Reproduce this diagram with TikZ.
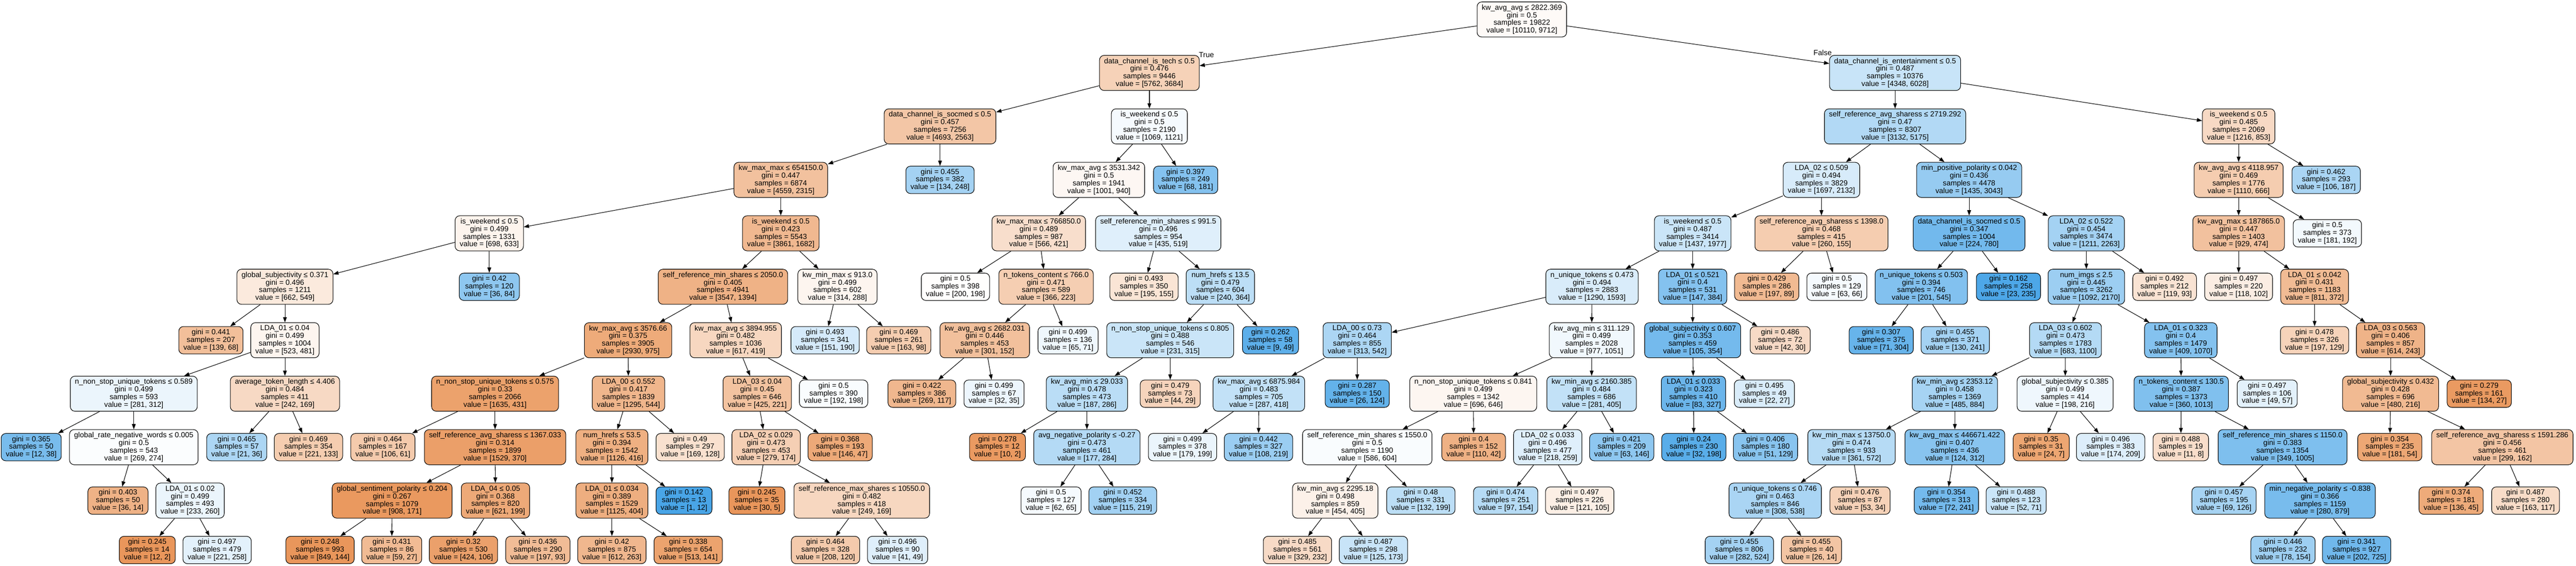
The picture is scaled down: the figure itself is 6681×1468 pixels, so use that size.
\documentclass[tikz,border=0pt]{standalone}
\usepackage{fontspec}
\setmainfont{Liberation Sans}
\usetikzlibrary{arrows.meta}
\definecolor{cO}{RGB}{229,129,57}
\definecolor{cB}{RGB}{57,157,229}
\newcommand{\tnI}[7]{\node[inode,#2] (#1) at (#3) {#4\\gini = #5\\samples = #6\\value = [#7]};}
\newcommand{\tnL}[6]{\node[lnode,#2] (#1) at (#3) {gini = #4\\samples = #5\\value = [#6]};}
\begin{document}
\begin{tikzpicture}[x=0.01cm,y=-0.01cm,
  font=\fontsize{5.46pt}{5.63pt}\selectfont,
  box/.style={draw=black, line width=0.4pt, rounded corners=0.12cm, align=center, inner xsep=0.12cm, inner ysep=0pt},
  inode/.style={box, minimum height=0.91cm},
  lnode/.style={box, minimum height=0.71cm},
  fo/.style={fill=cO!#1!white},
  fb/.style={fill=cB!#1!white},
  edge/.style={draw=black, line width=0.4pt, -{Triangle[length=3.9pt,width=2.8pt]}},
]
\fill[white] (0,0) rectangle (6681,1468);
\useasboundingbox (0,0) rectangle (6681,1468);
% level 0
\tnI{n0}{fo=4}{3947,50.5}{kw\_avg\_avg ≤ 2822.369}{0.5}{19822}{10110, 9712}
% level 1
\tnI{n1}{fo=36}{2981,189.2}{data\_channel\_is\_tech ≤ 0.5}{0.476}{9446}{5762, 3684}
\tnI{n2}{fb=28}{4915,189.2}{data\_channel\_is\_entertainment ≤ 0.5}{0.487}{10376}{4348, 6028}
% level 2
\tnI{n3}{fo=45}{2438,327.9}{data\_channel\_is\_socmed ≤ 0.5}{0.457}{7256}{4693, 2563}
\tnI{n4}{fb=5}{2981,327.9}{is\_weekend ≤ 0.5}{0.5}{2190}{1069, 1121}
\tnI{n5}{fb=39}{4915,327.9}{self\_reference\_avg\_sharess ≤ 2719.292}{0.47}{8307}{3132, 5175}
\tnI{n6}{fo=30}{5806,327.9}{is\_weekend ≤ 0.5}{0.485}{2069}{1216, 853}
% level 3
\tnI{n7}{fo=49}{2025,466.6}{kw\_max\_max ≤ 654150.0}{0.447}{6874}{4559, 2315}
\tnL{n8}{fb=46}{2438,466.6}{0.455}{382}{134, 248}
\tnI{n9}{fo=6}{2850,466.6}{kw\_max\_avg ≤ 3531.342}{0.5}{1941}{1001, 940}
\tnL{n10}{fb=62}{3075,466.6}{0.397}{249}{68, 181}
\tnI{n11}{fb=20}{4724,466.6}{LDA\_02 ≤ 0.509}{0.494}{3829}{1697, 2132}
\tnI{n12}{fb=53}{5107,466.6}{min\_positive\_polarity ≤ 0.042}{0.436}{4478}{1435, 3043}
\tnI{n13}{fo=40}{5806,466.6}{kw\_avg\_avg ≤ 4118.957}{0.469}{1776}{1110, 666}
\tnL{n14}{fb=43}{6033,466.6}{0.462}{293}{106, 187}
% level 4
\tnI{n15}{fo=9}{1269,605.3}{is\_weekend ≤ 0.5}{0.499}{1331}{698, 633}
\tnI{n16}{fo=56}{2025,605.3}{is\_weekend ≤ 0.5}{0.423}{5543}{3861, 1682}
\tnI{n17}{fo=26}{2694,605.3}{kw\_max\_max ≤ 766850.0}{0.489}{987}{566, 421}
\tnI{n18}{fb=16}{3004,605.3}{self\_reference\_min\_shares ≤ 991.5}{0.496}{954}{435, 519}
\tnI{n19}{fb=27}{4390,605.3}{is\_weekend ≤ 0.5}{0.487}{3414}{1437, 1977}
\tnI{n20}{fo=40}{4724,605.3}{self\_reference\_avg\_sharess ≤ 1398.0}{0.468}{415}{260, 155}
\tnI{n21}{fb=71}{5107,605.3}{data\_channel\_is\_socmed ≤ 0.5}{0.347}{1004}{224, 780}
\tnI{n22}{fb=46}{5411,605.3}{LDA\_02 ≤ 0.522}{0.454}{3474}{1211, 2263}
\tnI{n23}{fo=49}{5806,605.3}{kw\_avg\_max ≤ 187865.0}{0.447}{1403}{929, 474}
\tnL{n24}{fb=6}{6036,605.3}{0.5}{373}{181, 192}
% level 5
\tnI{n25}{fo=17}{739,744}{global\_subjectivity ≤ 0.371}{0.496}{1211}{662, 549}
\tnL{n26}{fb=57}{1269,744}{0.42}{120}{36, 84}
\tnI{n27}{fo=61}{1875,744}{self\_reference\_min\_shares ≤ 2050.0}{0.405}{4941}{3547, 1394}
\tnI{n28}{fo=8}{2172,744}{kw\_min\_max ≤ 913.0}{0.499}{602}{314, 288}
\tnL{n29}{fo=1}{2478,744}{0.5}{398}{200, 198}
\tnI{n30}{fo=39}{2713,744}{n\_tokens\_content ≤ 766.0}{0.471}{589}{366, 223}
\tnL{n31}{fo=21}{2967,744}{0.493}{350}{195, 155}
\tnI{n32}{fb=34}{3165,744}{num\_hrefs ≤ 13.5}{0.479}{604}{240, 364}
\tnI{n33}{fb=19}{4129,744}{n\_unique\_tokens ≤ 0.473}{0.494}{2883}{1290, 1593}
\tnI{n34}{fb=62}{4390,744}{LDA\_01 ≤ 0.521}{0.4}{531}{147, 384}
\tnL{n35}{fo=55}{4582,744}{0.429}{286}{197, 89}
\tnL{n36}{fb=5}{4764,744}{0.5}{129}{63, 66}
\tnI{n37}{fb=63}{4983,744}{n\_unique\_tokens ≤ 0.503}{0.394}{746}{201, 545}
\tnL{n38}{fb=90}{5209,744}{0.162}{258}{23, 235}
\tnI{n39}{fb=50}{5411,744}{num\_imgs ≤ 2.5}{0.445}{3262}{1092, 2170}
\tnL{n40}{fo=22}{5614,744}{0.492}{212}{119, 93}
\tnL{n41}{fo=14}{5806,744}{0.497}{220}{118, 102}
\tnI{n42}{fo=54}{6003,744}{LDA\_01 ≤ 0.042}{0.431}{1183}{811, 372}
% level 6
\tnL{n43}{fo=51}{547,882.7}{0.441}{207}{139, 68}
\tnI{n44}{fo=8}{739,882.7}{LDA\_01 ≤ 0.04}{0.499}{1004}{523, 481}
\tnI{n45}{fo=67}{1629,882.7}{kw\_max\_avg ≤ 3576.66}{0.375}{3905}{2930, 975}
\tnI{n46}{fo=32}{1908,882.7}{kw\_max\_avg ≤ 3894.955}{0.482}{1036}{617, 419}
\tnL{n47}{fb=21}{2140,882.7}{0.493}{341}{151, 190}
\tnL{n48}{fo=40}{2331,882.7}{0.469}{261}{163, 98}
\tnI{n49}{fo=50}{2554,882.7}{kw\_avg\_avg ≤ 2682.031}{0.446}{453}{301, 152}
\tnL{n50}{fb=8}{2770,882.7}{0.499}{136}{65, 71}
\tnI{n51}{fb=27}{3035,882.7}{n\_non\_stop\_unique\_tokens ≤ 0.805}{0.488}{546}{231, 315}
\tnL{n52}{fb=82}{3295,882.7}{0.262}{58}{9, 49}
\tnI{n53}{fb=42}{3520,882.7}{LDA\_00 ≤ 0.73}{0.464}{855}{313, 542}
\tnI{n54}{fb=7}{4128,882.7}{kw\_avg\_min ≤ 311.129}{0.499}{2028}{977, 1051}
\tnI{n55}{fb=70}{4390,882.7}{global\_subjectivity ≤ 0.607}{0.353}{459}{105, 354}
\tnL{n56}{fo=29}{4617,882.7}{0.486}{72}{42, 30}
\tnL{n57}{fb=77}{4879,882.7}{0.307}{375}{71, 304}
\tnL{n58}{fb=46}{5071,882.7}{0.455}{371}{130, 241}
\tnI{n59}{fb=38}{5357,882.7}{LDA\_03 ≤ 0.602}{0.473}{1783}{683, 1100}
\tnI{n60}{fb=62}{5656,882.7}{LDA\_01 ≤ 0.323}{0.4}{1479}{409, 1070}
\tnL{n61}{fo=35}{6003,882.7}{0.478}{326}{197, 129}
\tnI{n62}{fo=60}{6200,882.7}{LDA\_03 ≤ 0.563}{0.406}{857}{614, 243}
% level 7
\tnI{n63}{fb=10}{347,1021.4}{n\_non\_stop\_unique\_tokens ≤ 0.589}{0.499}{593}{281, 312}
\tnI{n64}{fo=30}{739,1021.4}{average\_token\_length ≤ 4.406}{0.484}{411}{242, 169}
\tnI{n65}{fo=74}{1284,1021.4}{n\_non\_stop\_unique\_tokens ≤ 0.575}{0.33}{2066}{1635, 431}
\tnI{n66}{fo=58}{1630,1021.4}{LDA\_00 ≤ 0.552}{0.417}{1839}{1295, 544}
\tnI{n67}{fo=48}{1964,1021.4}{LDA\_03 ≤ 0.04}{0.45}{646}{425, 221}
\tnL{n68}{fb=3}{2162,1021.4}{0.5}{390}{192, 198}
\tnL{n69}{fo=57}{2391,1021.4}{0.422}{386}{269, 117}
\tnL{n70}{fb=9}{2578,1021.4}{0.499}{67}{32, 35}
\tnI{n71}{fb=35}{2819,1021.4}{kw\_avg\_min ≤ 29.033}{0.478}{473}{187, 286}
\tnL{n72}{fo=34}{3035,1021.4}{0.479}{73}{44, 29}
\tnI{n73}{fb=31}{3265,1021.4}{kw\_max\_avg ≤ 6875.984}{0.483}{705}{287, 418}
\tnL{n74}{fb=79}{3520,1021.4}{0.287}{150}{26, 124}
\tnI{n75}{fo=7}{3821,1021.4}{n\_non\_stop\_unique\_tokens ≤ 0.841}{0.499}{1342}{696, 646}
\tnI{n76}{fb=31}{4128,1021.4}{kw\_min\_avg ≤ 2160.385}{0.484}{686}{281, 405}
\tnI{n77}{fb=75}{4392,1021.4}{LDA\_01 ≤ 0.033}{0.323}{410}{83, 327}
\tnL{n78}{fb=19}{4576,1021.4}{0.495}{49}{22, 27}
\tnI{n79}{fb=45}{5070,1021.4}{kw\_min\_avg ≤ 2353.12}{0.458}{1369}{485, 884}
\tnI{n80}{fb=8}{5356,1021.4}{global\_subjectivity ≤ 0.385}{0.499}{414}{198, 216}
\tnI{n81}{fb=64}{5657,1021.4}{n\_tokens\_content ≤ 130.5}{0.387}{1373}{360, 1013}
\tnL{n82}{fb=14}{5880,1021.4}{0.497}{106}{49, 57}
\tnI{n83}{fo=55}{6200,1021.4}{global\_subjectivity ≤ 0.432}{0.428}{696}{480, 216}
\tnL{n84}{fo=80}{6430,1021.4}{0.279}{161}{134, 27}
% level 8
\tnL{n85}{fb=68}{81,1160.1}{0.365}{50}{12, 38}
\tnI{n86}{fb=2}{347,1160.1}{global\_rate\_negative\_words ≤ 0.005}{0.5}{543}{269, 274}
\tnL{n87}{fb=42}{614,1160.1}{0.465}{57}{21, 36}
\tnL{n88}{fo=40}{800,1160.1}{0.469}{354}{221, 133}
\tnL{n89}{fo=42}{993,1160.1}{0.464}{167}{106, 61}
\tnI{n90}{fo=76}{1284,1160.1}{self\_reference\_avg\_sharess ≤ 1367.033}{0.314}{1899}{1529, 370}
\tnI{n91}{fo=63}{1587,1160.1}{num\_hrefs ≤ 53.5}{0.394}{1542}{1126, 416}
\tnL{n92}{fo=24}{1790,1160.1}{0.49}{297}{169, 128}
\tnI{n93}{fo=38}{1987,1160.1}{LDA\_02 ≤ 0.029}{0.473}{453}{279, 174}
\tnL{n94}{fo=68}{2179,1160.1}{0.368}{193}{146, 47}
\tnL{n95}{fo=80}{2587,1160.1}{0.278}{12}{10, 2}
\tnI{n96}{fb=38}{2819,1160.1}{avg\_negative\_polarity ≤ -0.27}{0.473}{461}{177, 284}
\tnL{n97}{fb=10}{3067,1160.1}{0.499}{378}{179, 199}
\tnL{n98}{fb=51}{3264,1160.1}{0.442}{327}{108, 219}
\tnI{n99}{fb=3}{3546,1160.1}{self\_reference\_min\_shares ≤ 1550.0}{0.5}{1190}{586, 604}
\tnL{n100}{fo=62}{3822,1160.1}{0.4}{152}{110, 42}
\tnI{n101}{fb=16}{4014,1160.1}{LDA\_02 ≤ 0.033}{0.496}{477}{218, 259}
\tnL{n102}{fb=57}{4206,1160.1}{0.421}{209}{63, 146}
\tnL{n103}{fb=84}{4393,1160.1}{0.24}{230}{32, 198}
\tnL{n104}{fb=60}{4579,1160.1}{0.406}{180}{51, 129}
\tnI{n105}{fb=37}{4802,1160.1}{kw\_min\_max ≤ 13750.0}{0.474}{933}{361, 572}
\tnI{n106}{fb=60}{5070,1160.1}{kw\_avg\_max ≤ 446671.422}{0.407}{436}{124, 312}
\tnL{n107}{fo=71}{5294,1160.1}{0.35}{31}{24, 7}
\tnL{n108}{fb=17}{5474,1160.1}{0.496}{383}{174, 209}
\tnL{n109}{fo=27}{5656,1160.1}{0.488}{19}{11, 8}
\tnI{n110}{fb=65}{5920,1160.1}{self\_reference\_min\_shares ≤ 1150.0}{0.383}{1354}{349, 1005}
\tnL{n111}{fo=70}{6198,1160.1}{0.354}{235}{181, 54}
\tnI{n112}{fo=46}{6490,1160.1}{self\_reference\_avg\_sharess ≤ 1591.286}{0.456}{461}{299, 162}
% level 9
\tnL{n113}{fo=61}{306,1298.8}{0.403}{50}{36, 14}
\tnI{n114}{fb=10}{493,1298.8}{LDA\_01 ≤ 0.02}{0.499}{493}{233, 260}
\tnI{n115}{fo=81}{1017,1298.8}{global\_sentiment\_polarity ≤ 0.204}{0.267}{1079}{908, 171}
\tnI{n116}{fo=68}{1285,1298.8}{LDA\_04 ≤ 0.05}{0.368}{820}{621, 199}
\tnI{n117}{fo=64}{1587,1298.8}{LDA\_01 ≤ 0.034}{0.389}{1529}{1125, 404}
\tnL{n118}{fb=92}{1774,1298.8}{0.142}{13}{1, 12}
\tnL{n119}{fo=83}{1963,1298.8}{0.245}{35}{30, 5}
\tnI{n120}{fo=32}{2235,1298.8}{self\_reference\_max\_shares ≤ 10550.0}{0.482}{418}{249, 169}
\tnL{n121}{fb=5}{2726,1298.8}{0.5}{127}{62, 65}
\tnL{n122}{fb=47}{2912,1298.8}{0.452}{334}{115, 219}
\tnI{n123}{fo=11}{3463,1298.8}{kw\_min\_avg ≤ 2295.18}{0.498}{859}{454, 405}
\tnL{n124}{fb=34}{3685,1298.8}{0.48}{331}{132, 199}
\tnL{n125}{fb=37}{3905,1298.8}{0.474}{251}{97, 154}
\tnL{n126}{fo=13}{4097,1298.8}{0.497}{226}{121, 105}
\tnI{n127}{fb=43}{4604,1298.8}{n\_unique\_tokens ≤ 0.746}{0.463}{846}{308, 538}
\tnL{n128}{fo=36}{4824,1298.8}{0.476}{87}{53, 34}
\tnL{n129}{fb=70}{5048,1298.8}{0.354}{313}{72, 241}
\tnL{n130}{fb=27}{5229,1298.8}{0.488}{123}{52, 71}
\tnL{n131}{fb=45}{5768,1298.8}{0.457}{195}{69, 126}
\tnI{n132}{fb=68}{6017,1298.8}{min\_negative\_polarity ≤ -0.838}{0.366}{1159}{280, 879}
\tnL{n133}{fo=67}{6357,1298.8}{0.374}{181}{136, 45}
\tnL{n134}{fo=28}{6550,1298.8}{0.487}{280}{163, 117}
% level 10
\tnL{n135}{fo=83}{382,1427}{0.245}{14}{12, 2}
\tnL{n136}{fb=14}{563,1427}{0.497}{479}{221, 258}
\tnL{n137}{fo=83}{830,1427}{0.248}{993}{849, 144}
\tnL{n138}{fo=54}{1016,1427}{0.431}{86}{59, 27}
\tnL{n139}{fo=75}{1202,1427}{0.32}{530}{424, 106}
\tnL{n140}{fo=53}{1395,1427}{0.436}{290}{197, 93}
\tnL{n141}{fo=57}{1587,1427}{0.42}{875}{612, 263}
\tnL{n142}{fo=73}{1785,1427}{0.338}{654}{513, 141}
\tnL{n143}{fo=42}{2141,1427}{0.464}{328}{208, 120}
\tnL{n144}{fb=16}{2328,1427}{0.496}{90}{41, 49}
\tnL{n145}{fo=29}{3365,1427}{0.485}{561}{329, 232}
\tnL{n146}{fb=28}{3562,1427}{0.487}{298}{125, 173}
\tnL{n147}{fb=46}{4511,1427}{0.455}{806}{282, 524}
\tnL{n148}{fo=46}{4698,1427}{0.455}{40}{26, 14}
\tnL{n149}{fb=49}{5921,1427}{0.446}{232}{78, 154}
\tnL{n150}{fb=72}{6112,1427}{0.341}{927}{202, 725}
% edges
\foreach \pa/\ch in {0/1,0/2,1/3,1/4,2/5,2/6,3/7,3/8,4/9,4/10,5/11,5/12,6/13,6/14,7/15,7/16,9/17,9/18,11/19,11/20,12/21,12/22,13/23,13/24,15/25,15/26,16/27,16/28,17/29,17/30,18/31,18/32,19/33,19/34,20/35,20/36,21/37,21/38,22/39,22/40,23/41,23/42,25/43,25/44,27/45,27/46,28/47,28/48,30/49,30/50,32/51,32/52,33/53,33/54,34/55,34/56,37/57,37/58,39/59,39/60,42/61,42/62,44/63,44/64,45/65,45/66,46/67,46/68,49/69,49/70,51/71,51/72,53/73,53/74,54/75,54/76,55/77,55/78,59/79,59/80,60/81,60/82,62/83,62/84,63/85,63/86,64/87,64/88,65/89,65/90,66/91,66/92,67/93,67/94,71/95,71/96,73/97,73/98,75/99,75/100,76/101,76/102,77/103,77/104,79/105,79/106,80/107,80/108,81/109,81/110,83/111,83/112,86/113,86/114,90/115,90/116,91/117,91/118,93/119,93/120,96/121,96/122,99/123,99/124,101/125,101/126,105/127,105/128,106/129,106/130,110/131,110/132,112/133,112/134,114/135,114/136,115/137,115/138,116/139,116/140,117/141,117/142,120/143,120/144,123/145,123/146,127/147,127/148,132/149,132/150}
  \draw[edge] (n\pa) -- (n\ch);
% edge labels
\node (tlab) at (3129,142) {True};
\node (flab) at (4727,137) {False};
\end{tikzpicture}
\end{document}
